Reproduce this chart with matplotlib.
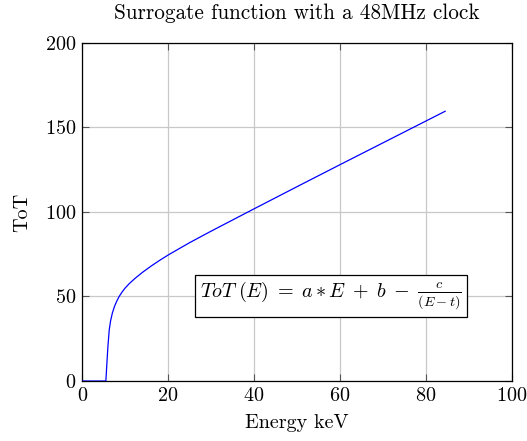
import matplotlib
matplotlib.use("Agg")
import matplotlib.pyplot as plt

# Surrogate ToT curve (energy in keV, ToT in clock counts)
energy_kev = [0.0, 5.5, 5.6, 5.75, 5.98, 6.29, 6.6, 7.0, 7.5, 8.0, 8.6,
              9.3, 10.0, 11.0, 12.3, 14.0, 16.0, 18.0, 20.0, 25.0, 30.0,
              40.0, 50.0, 60.0, 70.0, 80.0, 84.5]
tot_counts = [0.0, 0.0, 4.0, 10.6, 20.3, 30.2, 35.5, 40.0, 44.0, 47.0, 50.0,
              52.7, 55.0, 57.7, 60.7, 64.2, 67.9, 71.3, 74.5, 81.8, 88.6,
              101.8, 114.9, 127.9, 140.8, 153.7, 159.5]

x_ticks = [0, 20, 40, 60, 80, 100]
y_ticks = [0, 50, 100, 150, 200]

plt.rcParams["font.family"] = "serif"
plt.rcParams["font.serif"] = ["cmr10", "DejaVu Serif"]
plt.rcParams["mathtext.fontset"] = "cm"
plt.rcParams["axes.formatter.use_mathtext"] = True

fig = plt.figure(figsize=(5.27, 4.41), dpi=100)
ax = fig.add_axes([0.156, 0.136, 0.815, 0.767])

ax.plot(energy_kev, tot_counts, color="#0000ff", lw=0.9, zorder=3,
        solid_joinstyle="round")

ax.set_xlim(0, 100)
ax.set_ylim(0, 200)
ax.set_xticks(x_ticks)
ax.set_yticks(y_ticks)
ax.grid(True, color="#c8c8c8", lw=0.9, zorder=0)
ax.set_axisbelow(True)
ax.tick_params(direction="in", length=5, width=0.8, color="#555555",
               top=True, right=True, labelsize=14.5, pad=4)
for s in ax.spines.values():
    s.set_linewidth(0.9)
    s.set_color("black")

ax.set_title("Surrogate function with a 48MHz clock", fontsize=15.3, pad=17)
ax.set_xlabel("Energy keV", fontsize=14.5, labelpad=7)
ax.set_ylabel("ToT", fontsize=14.5, labelpad=10)

ax.text(58.0, 50.3,
        r"$ToT\;(E)\;=\;a \ast E\;+\;b\;-\;\frac{c}{(E-t)}$",
        fontsize=14.5, ha="center", va="center", zorder=4,
        bbox=dict(boxstyle="square,pad=0.25", fc="white", ec="black", lw=0.9))

fig.savefig("out.png", dpi=100)
